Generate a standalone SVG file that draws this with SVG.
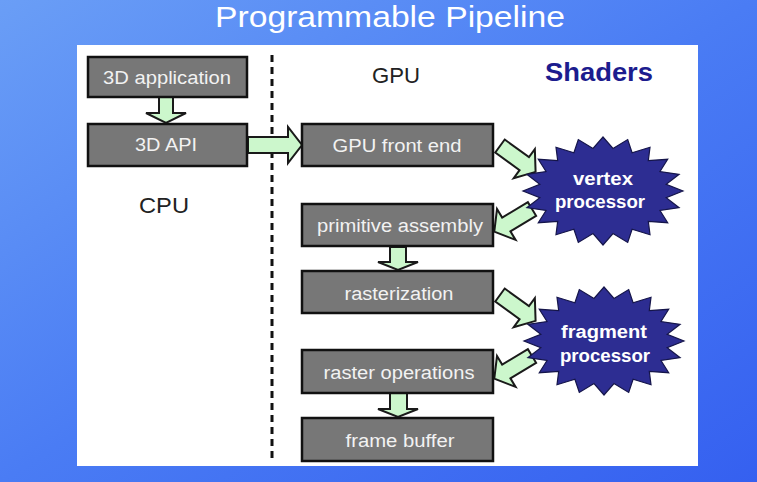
<svg xmlns="http://www.w3.org/2000/svg" width="757" height="482" viewBox="0 0 757 482">
  <defs>
    <linearGradient id="bg" x1="0" y1="0" x2="1" y2="1">
      <stop offset="0" stop-color="#6a9ef6"/>
      <stop offset="0.5" stop-color="#4a7cf4"/>
      <stop offset="1" stop-color="#3560f0"/>
    </linearGradient>
    <polygon id="star" points="80,0 63.2,6.7 76.1,16.7 57,19.5 64.7,31.7 45.3,30.4 47,43.7 29.1,38.3 24.7,51.4 10,42.5 0,54 -10,42.5 -24.7,51.4 -29.1,38.3 -47,43.7 -45.3,30.4 -64.7,31.7 -57,19.5 -76.1,16.7 -63.2,6.7 -80,0 -63.2,-6.7 -76.1,-16.7 -57,-19.5 -64.7,-31.7 -45.3,-30.4 -47,-43.7 -29.1,-38.3 -24.7,-51.4 -10,-42.5 0,-54 10,-42.5 24.7,-51.4 29.1,-38.3 47,-43.7 45.3,-30.4 64.7,-31.7 57,-19.5 76.1,-16.7 63.2,-6.7"/>
    <polygon id="diag" points="0,-8 30,-8 30,-18 44,0 30,18 30,8 0,8"/>
  </defs>
  <style>
    .box { fill: #777777; stroke: #111111; stroke-width: 2.5; }
    .btxt { font-family: "Liberation Sans", Arial, sans-serif; font-size: 18px; fill: #f2f2f2; text-anchor: middle; }
    .lbl { font-family: "Liberation Sans", Arial, sans-serif; font-size: 22px; fill: #222222; text-anchor: middle; }
    .star { fill: #2d2d92; stroke: #15154a; stroke-width: 1.2; }
    .stxt { font-family: "Liberation Sans", Arial, sans-serif; font-size: 18px; font-weight: bold; fill: #ffffff; text-anchor: middle; }
    .arr { fill: #ccf7cc; stroke: #1a1a1a; stroke-width: 2; stroke-linejoin: miter; }
  </style>

  <rect x="0" y="0" width="757" height="482" fill="url(#bg)"/>
  <text x="390" y="27" font-family="'Liberation Sans', Arial, sans-serif" font-size="29" fill="#ffffff" text-anchor="middle" textLength="350" lengthAdjust="spacingAndGlyphs">Programmable Pipeline</text>
  <rect x="77" y="45" width="621" height="421" fill="#ffffff"/>

  <line x1="272" y1="55" x2="272" y2="458" stroke="#111111" stroke-width="3" stroke-dasharray="7,5"/>

  <text class="lbl" x="396" y="83" textLength="48" lengthAdjust="spacingAndGlyphs">GPU</text>
  <text class="lbl" x="164" y="213" textLength="50" lengthAdjust="spacingAndGlyphs">CPU</text>
  <text x="599" y="81" font-family="'Liberation Sans', Arial, sans-serif" font-size="25" font-weight="bold" fill="#1c1c8e" text-anchor="middle" textLength="108" lengthAdjust="spacingAndGlyphs">Shaders</text>

  <g id="connectors">
    <polygon class="arr" points="159,97 173,97 173,113 186,113 166,123 146,113 159,113"/>
    <polygon class="arr" points="248,137 288,137 288,127 302,145 288,163 288,153 248,153"/>
    <polygon class="arr" points="390,247 406,247 406,262 418,262 398,270 378,262 390,262"/>
    <polygon class="arr" points="390,393 407,393 407,409 418,409 398,417 378,409 390,409"/>
    <use href="#diag" class="arr" transform="translate(500,146) rotate(36)"/>
    <use href="#diag" class="arr" transform="translate(532,209) rotate(149)"/>
    <use href="#diag" class="arr" transform="translate(500,295) rotate(36)"/>
    <use href="#diag" class="arr" transform="translate(532,356) rotate(149)"/>
  </g>

  <g id="app3d">
    <rect class="box" x="88" y="57" width="159" height="40"/>
    <text class="btxt" x="167" y="84" textLength="128" lengthAdjust="spacingAndGlyphs">3D application</text>
  </g>
  <g id="api3d">
    <rect class="box" x="88" y="124" width="159" height="42"/>
    <text class="btxt" x="166" y="151" textLength="62" lengthAdjust="spacingAndGlyphs">3D API</text>
  </g>
  <g id="frontend">
    <rect class="box" x="302" y="124" width="191" height="42"/>
    <text class="btxt" x="397" y="152" textLength="129" lengthAdjust="spacingAndGlyphs">GPU front end</text>
  </g>
  <g id="primitive">
    <rect class="box" x="302" y="204" width="191" height="42"/>
    <text class="btxt" x="400" y="232" textLength="166" lengthAdjust="spacingAndGlyphs">primitive assembly</text>
  </g>
  <g id="raster">
    <rect class="box" x="302" y="271" width="191" height="42"/>
    <text class="btxt" x="399" y="300" textLength="109" lengthAdjust="spacingAndGlyphs">rasterization</text>
  </g>
  <g id="rasterops">
    <rect class="box" x="302" y="350" width="191" height="43"/>
    <text class="btxt" x="399" y="379" textLength="151" lengthAdjust="spacingAndGlyphs">raster operations</text>
  </g>
  <g id="framebuffer">
    <rect class="box" x="302" y="418" width="191" height="43"/>
    <text class="btxt" x="400" y="447" textLength="109" lengthAdjust="spacingAndGlyphs">frame buffer</text>
  </g>
  <g id="vertex">
    <use href="#star" class="star" transform="translate(603,191)"/>
    <text class="stxt" x="603" y="185" textLength="60" lengthAdjust="spacingAndGlyphs">vertex</text>
    <text class="stxt" x="600" y="208" textLength="90" lengthAdjust="spacingAndGlyphs">processor</text>
  </g>
  <g id="fragment">
    <use href="#star" class="star" transform="translate(604,341)"/>
    <text class="stxt" x="604" y="338" textLength="86" lengthAdjust="spacingAndGlyphs">fragment</text>
    <text class="stxt" x="605" y="362" textLength="90" lengthAdjust="spacingAndGlyphs">processor</text>
  </g>
</svg>
